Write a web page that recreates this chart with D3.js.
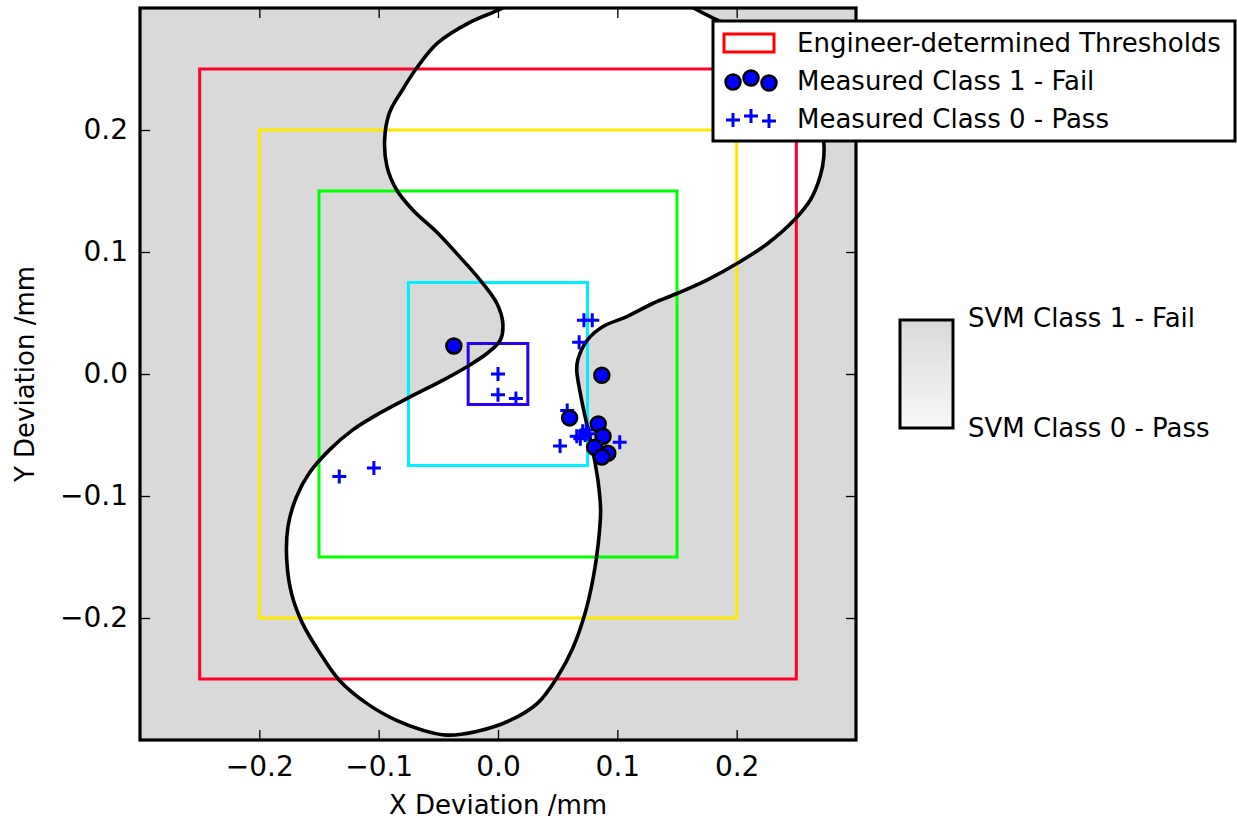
<!DOCTYPE html>
<html>
<head>
<meta charset="utf-8">
<script src="https://cdn.jsdelivr.net/npm/d3@7"></script>
<style>
  body { margin: 0; background: #fff; }
  text { font-family: "DejaVu Sans", sans-serif; }
</style>
</head>
<body>
<div id="wrapper"></div>
<script>
// data
const xTicks = [-0.2, -0.1, 0.0, 0.1, 0.2]
const yTicks = [-0.2, -0.1, 0.0, 0.1, 0.2]

const thresholdHalfWidths = [0.25, 0.2, 0.15, 0.075, 0.025]
const thresholdColors = ["#ff0029", "#ffe800", "#00ff00", "#00eeff", "#2a00ee"]

const failX = [-0.037, 0.087, 0.060, 0.084, 0.088, 0.081, 0.092, 0.087]
const failY = [0.023, -0.001, -0.036, -0.041, -0.051, -0.060, -0.065, -0.068]

const passX = [0.072, 0.079, 0.068, 0.000, 0.000, 0.015, 0.058,
  0.066, 0.071, 0.074, 0.069, 0.076, 0.073, 0.052, 0.102, -0.133, -0.104]
const passY = [0.044, 0.044, 0.026, 0.000, -0.017, -0.020, -0.030,
  -0.051, -0.047, -0.046, -0.053, -0.049, -0.050, -0.059, -0.056, -0.084, -0.077]

// SVM decision boundary (closed, extends above the top edge)
const boundaryX = [0.027, 0.002, -0.024, -0.051, -0.068, -0.080, -0.091, -0.095,
  -0.093, -0.085, -0.071, -0.051, -0.032, -0.015, -0.001, 0.004, 0.002, -0.009,
  -0.026, -0.046, -0.074, -0.099, -0.122, -0.141, -0.158, -0.169, -0.176, -0.177,
  -0.173, -0.164, -0.149, -0.133, -0.110, -0.085, -0.063, -0.043, -0.018, 0.010,
  0.033, 0.050, 0.063, 0.073, 0.080, 0.084, 0.086, 0.084, 0.081, 0.077, 0.073,
  0.069, 0.066, 0.067, 0.075, 0.088, 0.108, 0.130, 0.150, 0.175, 0.201, 0.226,
  0.248, 0.262, 0.270, 0.273, 0.272, 0.262, 0.241, 0.211, 0.184, 0.164, 0.144, 0.086]
const boundaryY = [0.311, 0.299, 0.288, 0.271, 0.251, 0.233, 0.214, 0.192,
  0.170, 0.151, 0.134, 0.116, 0.096, 0.077, 0.058, 0.042, 0.028, 0.017,
  0.006, -0.005, -0.019, -0.032, -0.046, -0.062, -0.081, -0.101, -0.125, -0.153,
  -0.180, -0.204, -0.229, -0.251, -0.270, -0.284, -0.292, -0.296, -0.293, -0.284,
  -0.270, -0.248, -0.224, -0.196, -0.166, -0.139, -0.112, -0.089, -0.071, -0.052, -0.035,
  -0.016, 0.003, 0.012, 0.028, 0.039, 0.047, 0.058, 0.066, 0.077, 0.091, 0.107,
  0.126, 0.143, 0.162, 0.178, 0.200, 0.233, 0.259, 0.278, 0.290, 0.300, 0.313, 0.323]

const legendLabels = ["Engineer-determined Thresholds", "Measured Class 1 - Fail", "Measured Class 0 - Pass"]
const colorbarLabels = ["SVM Class 1 - Fail", "SVM Class 0 - Pass"]

// dimensions
const width = 1237
const height = 827
const plot = { left: 140, right: 856, top: 8, bottom: 740 }

const svg = d3.select("#wrapper").append("svg")
  .attr("width", width)
  .attr("height", height)

const xScale = d3.scaleLinear().domain([-0.3, 0.3]).range([plot.left, plot.right])
const yScale = d3.scaleLinear().domain([-0.3, 0.3]).range([plot.bottom, plot.top])

svg.append("clipPath").attr("id", "plotClip")
  .append("rect")
  .attr("x", plot.left).attr("y", plot.top)
  .attr("width", plot.right - plot.left).attr("height", plot.bottom - plot.top)

const bounds = svg.append("g").attr("clip-path", "url(#plotClip)")

// class 1 region background
bounds.append("rect")
  .attr("x", plot.left).attr("y", plot.top)
  .attr("width", plot.right - plot.left).attr("height", plot.bottom - plot.top)
  .attr("fill", "#d9d9d9")

const boundary = d3.zip(boundaryX, boundaryY)
const lineGen = d3.line()
  .x(d => xScale(d[0]))
  .y(d => yScale(d[1]))
  .curve(d3.curveCatmullRomClosed.alpha(0.5))

bounds.append("path")
  .attr("d", lineGen(boundary))
  .attr("fill", "#ffffff")

// threshold boxes
bounds.selectAll(".threshold")
  .data(thresholdHalfWidths)
  .enter().append("rect")
  .attr("class", "threshold")
  .attr("x", d => xScale(-d))
  .attr("y", d => yScale(d))
  .attr("width", d => xScale(d) - xScale(-d))
  .attr("height", d => yScale(-d) - yScale(d))
  .attr("fill", "none")
  .attr("stroke", (d, i) => thresholdColors[i])
  .attr("stroke-width", 3)

bounds.append("path")
  .attr("d", lineGen(boundary))
  .attr("fill", "none")
  .attr("stroke", "#000")
  .attr("stroke-width", 3.6)
  .attr("stroke-linejoin", "round")

// measured points
const plusPath = s => `M${-s},0H${s}M0,${-s}V${s}`

bounds.selectAll(".pass")
  .data(d3.zip(passX, passY))
  .enter().append("path")
  .attr("class", "pass")
  .attr("transform", d => `translate(${xScale(d[0])},${yScale(d[1])})`)
  .attr("d", plusPath(7))
  .attr("stroke", "#0000ff")
  .attr("stroke-width", 3)

bounds.selectAll(".fail")
  .data(d3.zip(failX, failY))
  .enter().append("circle")
  .attr("class", "fail")
  .attr("cx", d => xScale(d[0]))
  .attr("cy", d => yScale(d[1]))
  .attr("r", 7.5)
  .attr("fill", "#0000ff")
  .attr("stroke", "#000")
  .attr("stroke-width", 2.5)

// axes with inward ticks
const fmt = d3.format(".1f")
const xAxis = svg.append("g")
  .attr("transform", `translate(0,${plot.bottom})`)
  .call(d3.axisBottom(xScale).tickValues(xTicks).tickFormat(fmt).tickSize(-10).tickPadding(16))
const yAxis = svg.append("g")
  .attr("transform", `translate(${plot.left},0)`)
  .call(d3.axisLeft(yScale).tickValues(yTicks).tickFormat(fmt).tickSize(-10).tickPadding(12))
const xTop = svg.append("g")
  .attr("transform", `translate(0,${plot.top})`)
  .call(d3.axisTop(xScale).tickValues(xTicks).tickFormat("").tickSize(-10))
const yRight = svg.append("g")
  .attr("transform", `translate(${plot.right},0)`)
  .call(d3.axisRight(yScale).tickValues(yTicks).tickFormat("").tickSize(-10))

;[xAxis, yAxis, xTop, yRight].forEach(a => {
  a.select(".domain").remove()
  a.selectAll(".tick line").attr("stroke", "#000").attr("stroke-width", 1.3)
  a.selectAll(".tick text")
    .attr("fill", "#000")
    .attr("font-family", "DejaVu Sans")
    .attr("font-size", 28)
})
xAxis.attr("font-size", 28)
yAxis.attr("font-size", 28)

svg.append("rect")
  .attr("x", plot.left).attr("y", plot.top)
  .attr("width", plot.right - plot.left).attr("height", plot.bottom - plot.top)
  .attr("fill", "none")
  .attr("stroke", "#000")
  .attr("stroke-width", 3.2)

svg.append("text")
  .attr("x", (plot.left + plot.right) / 2)
  .attr("y", 814)
  .attr("text-anchor", "middle")
  .style("font-size", "26px")
  .text("X Deviation /mm")

svg.append("text")
  .attr("transform", `translate(34,${(plot.top + plot.bottom) / 2}) rotate(-90)`)
  .attr("text-anchor", "middle")
  .style("font-size", "26px")
  .text("Y Deviation /mm")

// legend
const legend = svg.append("g").attr("transform", "translate(713,21)")
legend.append("rect")
  .attr("width", 522).attr("height", 120)
  .attr("fill", "#fff").attr("stroke", "#000").attr("stroke-width", 3)

const rowY = [22, 60, 98]
legend.append("rect")
  .attr("x", 11).attr("y", rowY[0] - 9)
  .attr("width", 50).attr("height", 18)
  .attr("fill", "#fff").attr("stroke", "#ff0000").attr("stroke-width", 3)

const markerX = [20, 38, 56]
const markerDy = [1, -3, 2]
legend.selectAll(".lfail")
  .data(markerX)
  .enter().append("circle")
  .attr("cx", d => d)
  .attr("cy", (d, i) => rowY[1] + markerDy[i])
  .attr("r", 7.5)
  .attr("fill", "#0000ff").attr("stroke", "#000").attr("stroke-width", 2.5)
legend.selectAll(".lpass")
  .data(markerX)
  .enter().append("path")
  .attr("transform", (d, i) => `translate(${d},${rowY[2] + markerDy[i]})`)
  .attr("d", plusPath(7))
  .attr("stroke", "#0000ff").attr("stroke-width", 3)

legend.selectAll(".ltext")
  .data(legendLabels)
  .enter().append("text")
  .attr("x", 84)
  .attr("y", (d, i) => rowY[i])
  .attr("dy", "0.35em")
  .style("font-size", "26px")
  .text(d => d)

// colorbar
const defs = svg.append("defs")
const grad = defs.append("linearGradient").attr("id", "cbGrad")
  .attr("x1", 0).attr("y1", 0).attr("x2", 0).attr("y2", 1)
grad.append("stop").attr("offset", "0%").attr("stop-color", "#d9d9d9")
grad.append("stop").attr("offset", "100%").attr("stop-color", "#f8f8f8")

svg.append("rect")
  .attr("x", 900).attr("y", 320)
  .attr("width", 53).attr("height", 108)
  .attr("fill", "url(#cbGrad)")
  .attr("stroke", "#000").attr("stroke-width", 3)

svg.selectAll(".cblabel")
  .data(colorbarLabels)
  .enter().append("text")
  .attr("x", 968)
  .attr("y", (d, i) => [318, 428][i])
  .attr("dy", "0.35em")
  .style("font-size", "26px")
  .text(d => d)
</script>
</body>
</html>
